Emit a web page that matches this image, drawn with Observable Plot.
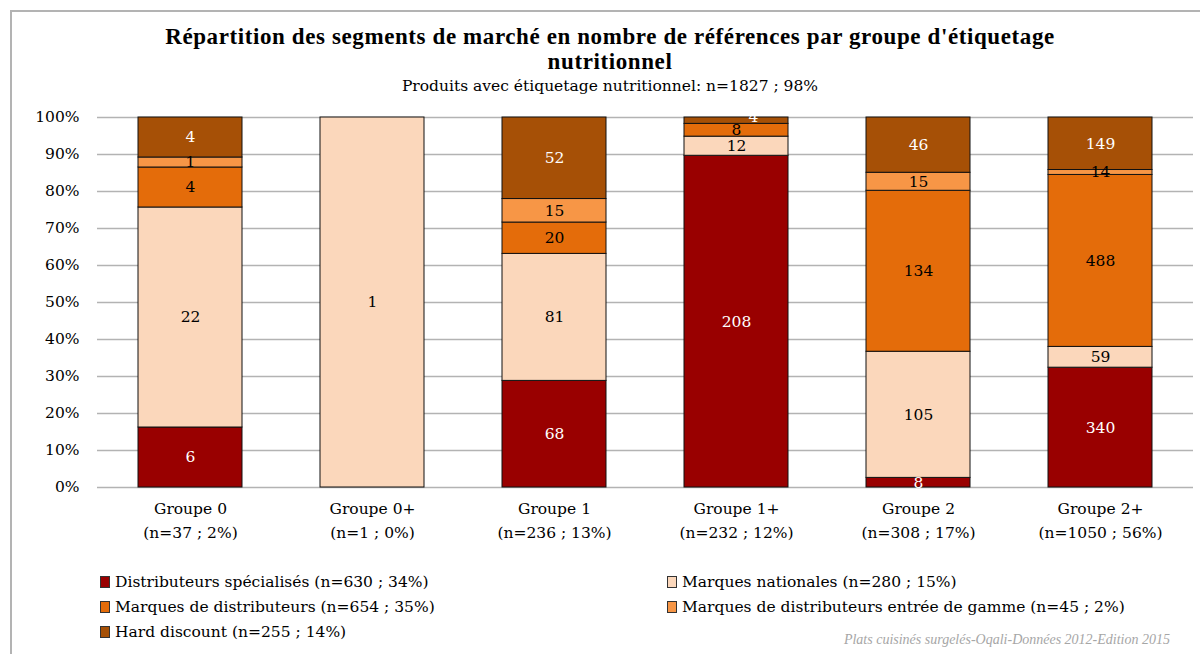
<!DOCTYPE html>
<html><head><meta charset="utf-8">
<script src="https://cdn.jsdelivr.net/npm/d3@7"></script>
<script src="https://cdn.jsdelivr.net/npm/@observablehq/plot@0.6"></script>
<style>
body{margin:0;background:#fff;font-family:"DejaVu Serif",serif;}
#wrap{position:relative;width:1200px;height:654px;overflow:hidden;}
#frame{position:absolute;left:10px;top:10px;width:1200px;height:700px;border-left:2px solid #b3b3b3;border-top:2px solid #b3b3b3;}
.t{position:absolute;left:0;width:1220px;text-align:center;color:#000;}
#title{top:24px;font-family:"Liberation Serif",serif;font-size:23px;font-weight:bold;line-height:25px;letter-spacing:0.6px;}
#sub{top:77px;font-size:15.5px;}
#plot{position:absolute;left:0;top:100px;}
.leg{position:absolute;font-size:15.5px;line-height:20px;white-space:nowrap;}
.leg i{display:inline-block;width:8px;height:10px;border:1px solid #333;margin-right:5px;vertical-align:-1px;}
#cap{position:absolute;right:30px;top:632px;font-family:"Liberation Serif",serif;font-size:14px;font-style:italic;color:#a6a6a6;}
</style></head>
<body>
<div id="wrap">
<div id="frame"></div>
<div class="t" id="title">Répartition des segments de marché en nombre de références par groupe d'étiquetage<br>nutritionnel</div>
<div class="t" id="sub">Produits avec étiquetage nutritionnel: n=1827 ; 98%</div>
<div id="plot"></div>
<div id="legend"></div>
<div id="cap">Plats cuisinés surgelés-Oqali-Données 2012-Edition 2015</div>
</div>
<script>
const groups = ["Groupe 0", "Groupe 0+", "Groupe 1", "Groupe 1+", "Groupe 2", "Groupe 2+"];
const groupCounts = ["(n=37 ; 2%)", "(n=1 ; 0%)", "(n=236 ; 13%)", "(n=232 ; 12%)", "(n=308 ; 17%)", "(n=1050 ; 56%)"];
const series = ["Distributeurs spécialisés", "Marques nationales", "Marques de distributeurs", "Marques de distributeurs entrée de gamme", "Hard discount"];
const seriesTotals = ["(n=630 ; 34%)", "(n=280 ; 15%)", "(n=654 ; 35%)", "(n=45 ; 2%)", "(n=255 ; 14%)"];
const distributeursSpecialises = [6, 0, 68, 208, 8, 340];
const marquesNationales = [22, 1, 81, 12, 105, 59];
const marquesDistributeurs = [4, 0, 20, 8, 134, 488];
const marquesDistributeursEntreeGamme = [1, 0, 15, 0, 15, 14];
const hardDiscount = [4, 0, 52, 4, 46, 149];
const colors = ["#990000", "#fbd7bb", "#e46c0a", "#f79646", "#a65006"];
const labelColors = ["#fff", "#000", "#000", "#000", "#fff"];
const yTicks = [0, 0.1, 0.2, 0.3, 0.4, 0.5, 0.6, 0.7, 0.8, 0.9, 1];

const valueArrays = [distributeursSpecialises, marquesNationales, marquesDistributeurs, marquesDistributeursEntreeGamme, hardDiscount];
const data = [];
series.forEach((s, si) => groups.forEach((g, gi) => {
  const v = valueArrays[si][gi];
  if (v > 0) data.push({group: g, series: s, value: v, si});
}));
// the tiny top segment of Groupe 1+ has its label nudged aside, as in the reference
const nudged = d => d.group === "Groupe 1+" && d.series === "Hard discount";

const font = "DejaVu Serif";
const textOpts = {offset: "normalize", order: series, x: "group", y: "value", fill: d => labelColors[d.si], fontSize: 15.5};
const chart = Plot.plot({
  width: 1200, height: 450,
  marginLeft: 97, marginRight: 7, marginTop: 17, marginBottom: 63,
  style: {fontFamily: font, fontSize: "15.5px", color: "#000", background: "transparent", overflow: "visible"},
  x: {domain: groups, paddingInner: 0.43, paddingOuter: 0.215, label: null},
  y: {domain: [0, 1], label: null},
  color: {domain: series, range: colors},
  marks: [
    Plot.gridY(yTicks, {stroke: "#b3b3b3", strokeOpacity: 1, strokeWidth: 1.6}),
    Plot.barY(data, Plot.stackY({offset: "normalize", order: series, x: "group", y: "value", fill: "series", stroke: "#111", strokeWidth: 1})),
    Plot.text(data, Plot.stackY({...textOpts, text: d => nudged(d) ? null : String(d.value)})),
    Plot.text(data, Plot.stackY({...textOpts, text: d => nudged(d) ? String(d.value) : null, dx: 17, dy: -4})),
    Plot.axisY(yTicks, {tickSize: 0, tickPadding: 18, tickFormat: d3.format(".0%"), fontSize: 15.5, label: null}),
    Plot.axisX({tickSize: 0, tickPadding: 10, fontSize: 15.5, lineHeight: 1.52, label: null,
      tickFormat: d => d + "\n" + groupCounts[groups.indexOf(d)]})
  ]
});
document.getElementById("plot").appendChild(chart);

const legendPos = [[100, 572], [667, 572], [100, 597], [667, 597], [100, 622]];
const leg = document.getElementById("legend");
series.forEach((s, i) => {
  const d = document.createElement("div");
  d.className = "leg";
  d.style.left = legendPos[i][0] + "px";
  d.style.top = legendPos[i][1] + "px";
  d.innerHTML = `<i style="background:${colors[i]}"></i>${s} ${seriesTotals[i]}`;
  leg.appendChild(d);
});
</script>
</body></html>
